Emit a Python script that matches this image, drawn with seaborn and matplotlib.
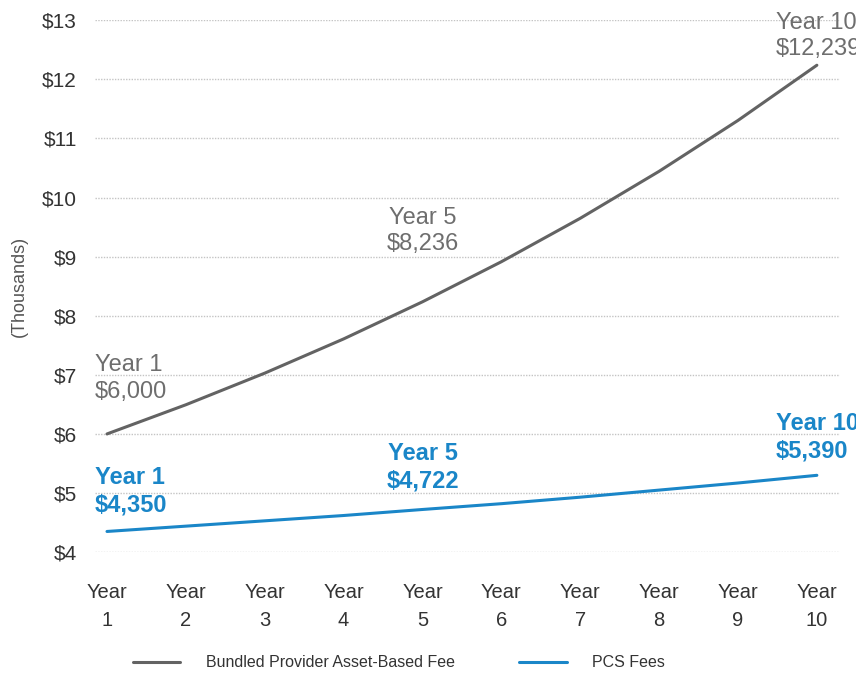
import matplotlib
matplotlib.use("Agg")
import matplotlib.pyplot as plt
import seaborn as sns
import pandas as pd

years = [1, 2, 3, 4, 5, 6, 7, 8, 9, 10]
bundled = [6.000, 6.494, 7.029, 7.608, 8.236, 8.914, 9.649, 10.444, 11.305, 12.239]
pcs = [4.350, 4.440, 4.530, 4.620, 4.722, 4.820, 4.930, 5.050, 5.170, 5.300]
series_names = ["Bundled Provider Asset-Based Fee", "PCS Fees"]
x_labels = [f"Year\n{y}" for y in years]
y_ticks = [4, 5, 6, 7, 8, 9, 10, 11, 12, 13]
y_labels = [f"${v}" for v in y_ticks]

gray = "#636363"
gray_txt = "#6e6e6e"
blue = "#1a86c8"

df = pd.DataFrame({
    "Year": years * 2,
    "Fee": bundled + pcs,
    "Series": [series_names[0]] * len(years) + [series_names[1]] * len(years),
})

sns.set_style("white")
plt.rcParams["font.family"] = ["Liberation Sans", "DejaVu Sans"]

fig = plt.figure(figsize=(8.56, 6.75), dpi=100)
ax = fig.add_axes([0.111, 0.182, 0.870, 0.788])

sns.lineplot(data=df, x="Year", y="Fee", hue="Series",
             palette={series_names[0]: gray, series_names[1]: blue},
             linewidth=2.2, ax=ax, legend=True)

ax.set_xlim(0.848, 10.29)
ax.set_ylim(4, 13)
ax.set_yticks(y_ticks)
ax.set_yticklabels(y_labels, fontsize=15, color="#333333")
ax.set_xticks(years)
ax.set_xticklabels(x_labels, fontsize=14.5, color="#333333", linespacing=1.65)
ax.tick_params(axis="both", length=0)
ax.tick_params(axis="y", pad=13)
ax.tick_params(axis="x", pad=22)
ax.set_xlabel("")
ax.set_ylabel("(Thousands)", fontsize=13, color="#555555")
ax.yaxis.set_label_coords(-0.09, 0.5)

for s in ax.spines.values():
    s.set_visible(False)
ax.grid(axis="y", linestyle=(0, (1, 1)), color="#c4c4c4", linewidth=1)
ax.grid(axis="x", visible=False)

ann = dict(fontsize=17, clip_on=False, linespacing=1.25)
ax.text(0.848, 6.94, "Year 1\n$6,000", color=gray_txt, ha="left", va="center", **ann)
ax.text(5.0, 9.43, "Year 5\n$8,236", color=gray_txt, ha="center", va="center", **ann)
ax.text(9.48, 12.73, "Year 10\n$12,239", color=gray_txt, ha="left", va="center", **ann)
ax.text(0.848, 5.03, "Year 1\n$4,350", color=blue, ha="left", va="center", fontweight="bold", **ann)
ax.text(5.0, 5.44, "Year 5\n$4,722", color=blue, ha="center", va="center", fontweight="bold", **ann)
ax.text(9.48, 5.95, "Year 10\n$5,390", color=blue, ha="left", va="center", fontweight="bold", **ann)

leg = ax.legend(loc="center", bbox_to_anchor=(0.466, 0.018), bbox_transform=fig.transFigure,
                ncol=2, frameon=False, fontsize=11.5, handlelength=3.0, columnspacing=4.0,
                handletextpad=1.6, borderpad=0.1)
for t in leg.get_texts():
    t.set_color("#333333")

fig.savefig("out.png", dpi=100)
